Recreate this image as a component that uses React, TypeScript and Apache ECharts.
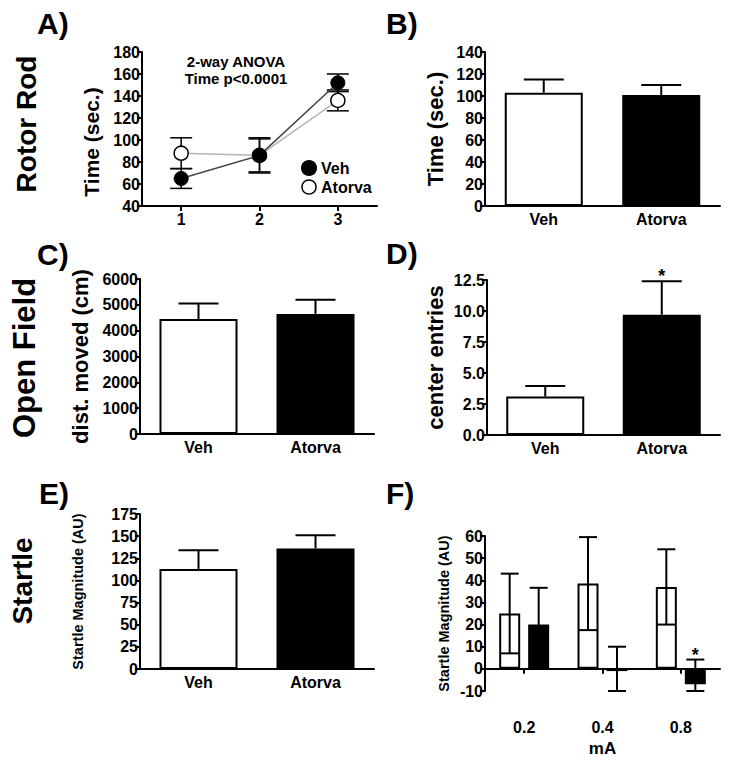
import React, { useEffect, useRef } from "react";
import * as echarts from "echarts";

const FONT = "'Liberation Sans', Arial, Helvetica, sans-serif";

// Panel A: rotor rod over sessions
const sessions = ["1", "2", "3"];
const rotorVehMean = [65, 86, 152];
const rotorVehSem = [9, 15, 8];
const rotorAtorvaMean = [88, 86, 136];
const rotorAtorvaSem = [14, 16, 9.5];

// Panels B–E: two groups
const groups = ["Veh", "Atorva"];
const rotorTotalMean = [103, 101];
const rotorTotalSem = [12, 9];
const distMean = [4450, 4650];
const distSem = [600, 550];
const centerMean = [3.1, 9.7];
const centerSem = [0.85, 2.7];
const centerSig = [0, 1];
const startleMean = [113, 136];
const startleSem = [21, 15];

// Panel F: startle by shock level
const shockLevels = ["0.2", "0.4", "0.8"];
const shockVehMean = [25, 38.5, 37];
const shockVehSem = [18, 21, 17];
const shockAtorvaMean = [20, -1, -7];
const shockAtorvaSem = [16.6, 11, 11.2];
const shockAtorvaSig = [0, 0, 1];

const BLACK = "#000";

function errSeries(
  xAxisIndex: number,
  mean: number[],
  sem: number[],
  opts: { offset?: number; cap: number; both: boolean; min: number; width: number; sig?: number[] }
) {
  const data = mean.map((m, i) => [i, m, sem[i], opts.sig ? opts.sig[i] : 0]);
  return {
    type: "custom",
    xAxisIndex,
    yAxisIndex: xAxisIndex,
    z: 5,
    silent: true,
    encode: { x: 0, y: 1 },
    data,
    renderItem: (_params: any, api: any) => {
      const cat = api.value(0);
      const m = api.value(1);
      const s = api.value(2);
      const sig = api.value(3);
      const hi = m + s;
      let lo = opts.both ? m - s : m;
      if (lo < opts.min) lo = opts.min;
      const pHi = api.coord([cat, hi]);
      const pLo = api.coord([cat, lo]);
      const x = pHi[0] + (opts.offset || 0);
      const st = { stroke: BLACK, lineWidth: opts.width };
      const children: any[] = [
        { type: "line", shape: { x1: x, y1: pHi[1], x2: x, y2: pLo[1] }, style: st },
        { type: "line", shape: { x1: x - opts.cap, y1: pHi[1], x2: x + opts.cap, y2: pHi[1] }, style: st },
      ];
      if (opts.both) {
        children.push({
          type: "line",
          shape: { x1: x - opts.cap, y1: pLo[1], x2: x + opts.cap, y2: pLo[1] },
          style: st,
        });
      }
      if (sig) {
        children.push({
          type: "text",
          x,
          y: pHi[1] - 5,
          style: {
            text: "*",
            fill: BLACK,
            font: `bold 18px ${FONT}`,
            textAlign: "center",
            textVerticalAlign: "middle",
          },
        });
      }
      return { type: "group", children };
    },
  };
}

function yAx(
  gridIndex: number,
  min: number,
  max: number,
  interval: number,
  name: string,
  nameSize: number,
  nameGap: number,
  fmt?: any,
  namePadding?: number[]
) {
  return {
    type: "value",
    gridIndex,
    min,
    max,
    interval,
    name,
    nameLocation: "middle",
    nameGap,
    nameRotate: 90,
    nameTextStyle: {
      fontSize: nameSize,
      fontWeight: "bold",
      color: BLACK,
      fontFamily: FONT,
      padding: namePadding || 0,
    },
    axisLine: { show: true, lineStyle: { color: BLACK, width: 2 } },
    axisTick: { show: true, length: 5, lineStyle: { color: BLACK, width: 2 } },
    axisLabel: {
      color: BLACK,
      fontWeight: "bold",
      fontSize: 16,
      margin: 2,
      fontFamily: FONT,
      formatter: fmt || ((v: number) => String(v)),
    },
    splitLine: { show: false },
  };
}

function xAx(gridIndex: number, data: string[], ticks: boolean, margin: number, name?: string) {
  return {
    type: "category",
    gridIndex,
    data,
    name: name || "",
    nameLocation: "middle",
    nameGap: 49,
    nameTextStyle: { fontSize: 17, fontWeight: "bold", color: BLACK, fontFamily: FONT },
    axisLine: { show: true, onZero: true, lineStyle: { color: BLACK, width: 2 } },
    axisTick: { show: ticks, alignWithLabel: true, length: 5, lineStyle: { color: BLACK, width: 2 } },
    axisLabel: { color: BLACK, fontWeight: "bold", fontSize: 16, margin, fontFamily: FONT },
    splitLine: { show: false },
  };
}

function barSeries(axis: number, values: number[], name: string) {
  return {
    type: "bar",
    name,
    xAxisIndex: axis,
    yAxisIndex: axis,
    barWidth: 78,
    z: 2,
    data: values.map((v, i) => ({
      value: v,
      itemStyle: { color: i === 0 ? "#fff" : BLACK, borderColor: BLACK, borderWidth: 2 },
    })),
  };
}

function label(text: string, x: number, y: number, size: number, rotate = false) {
  return {
    type: "text",
    x,
    y,
    rotation: rotate ? Math.PI / 2 : 0,
    style: {
      text,
      fill: BLACK,
      font: `bold ${size}px ${FONT}`,
      textAlign: rotate ? "center" : "left",
      textVerticalAlign: "middle",
    },
  };
}

const gridBase = { outerBoundsMode: "none", containLabel: false };

export default function App() {
  const ref = useRef<HTMLDivElement>(null);
  useEffect(() => {
    if (!ref.current) return;
    const chart = echarts.init(ref.current, undefined, { renderer: "svg" });
    const option: any = {
      animation: false,
      backgroundColor: "#fff",
      textStyle: { fontFamily: FONT },
      grid: [
        { ...gridBase, left: 142, top: 52, width: 235, height: 154 },
        { ...gridBase, left: 485, top: 52, width: 235, height: 154 },
        { ...gridBase, left: 140, top: 279, width: 234, height: 155 },
        { ...gridBase, left: 487, top: 280, width: 233, height: 155 },
        { ...gridBase, left: 140, top: 514, width: 234, height: 155 },
        { ...gridBase, left: 485, top: 536, width: 235, height: 155 },
      ],
      xAxis: [
        xAx(0, sessions, true, 5),
        xAx(1, groups, false, 5),
        xAx(2, groups, false, 5),
        xAx(3, groups, false, 5),
        xAx(4, groups, false, 5),
        xAx(5, shockLevels, true, 28, "mA"),
      ],
      yAxis: [
        yAx(0, 40, 180, 20, "Time (sec.)", 21, 40, undefined, [0, 26, 0, 0]),
        yAx(1, 0, 140, 20, "Time (sec.)", 22, 39),
        yAx(2, 0, 6000, 1000, "dist. moved (cm)", 22, 49),
        yAx(3, 0, 12.5, 2.5, "center entries", 22, 41, (v: number) => v.toFixed(1)),
        yAx(4, 0, 175, 25, "Startle Magnitude (AU)", 14.5, 55),
        yAx(5, -10, 60, 10, "Startle Magnitude (AU)", 14.5, 34),
      ],
      legend: {
        orient: "vertical",
        left: 296,
        top: 155,
        itemWidth: 14,
        itemHeight: 14,
        itemGap: 3,
        icon: "circle",
        textStyle: { color: BLACK, fontWeight: "bold", fontSize: 16, fontFamily: FONT },
        data: [
          { name: "Veh", itemStyle: { color: BLACK } },
          { name: "Atorva", itemStyle: { color: "#fff", borderColor: BLACK, borderWidth: 1.5 } },
        ],
      },
      series: [
        errSeries(0, rotorVehMean, rotorVehSem, { cap: 11, both: true, min: 40, width: 1.5 }),
        errSeries(0, rotorAtorvaMean, rotorAtorvaSem, { cap: 11, both: true, min: 40, width: 1.5 }),
        {
          type: "line",
          name: "Atorva",
          xAxisIndex: 0,
          yAxisIndex: 0,
          data: rotorAtorvaMean,
          symbol: "circle",
          symbolSize: 14,
          z: 6,
          lineStyle: { color: "#b5b5b5", width: 1.5 },
          itemStyle: { color: "#fff", borderColor: BLACK, borderWidth: 1.5 },
        },
        {
          type: "line",
          name: "Veh",
          xAxisIndex: 0,
          yAxisIndex: 0,
          data: rotorVehMean,
          symbol: "circle",
          symbolSize: 14,
          z: 7,
          lineStyle: { color: "#444", width: 1.5 },
          itemStyle: { color: BLACK, borderColor: BLACK, borderWidth: 1 },
        },
        barSeries(1, rotorTotalMean, "B"),
        errSeries(1, rotorTotalMean, rotorTotalSem, { cap: 20, both: false, min: 0, width: 2 }),
        barSeries(2, distMean, "C"),
        errSeries(2, distMean, distSem, { cap: 20, both: false, min: 0, width: 2 }),
        barSeries(3, centerMean, "D"),
        errSeries(3, centerMean, centerSem, { cap: 20, both: false, min: 0, width: 2, sig: centerSig }),
        barSeries(4, startleMean, "E"),
        errSeries(4, startleMean, startleSem, { cap: 20, both: false, min: 0, width: 2 }),
        {
          type: "bar",
          name: "F Veh",
          xAxisIndex: 5,
          yAxisIndex: 5,
          barWidth: 21,
          barGap: "38%",
          z: 2,
          data: shockVehMean,
          itemStyle: { color: "#fff", borderColor: BLACK, borderWidth: 2 },
        },
        {
          type: "bar",
          name: "F Atorva",
          xAxisIndex: 5,
          yAxisIndex: 5,
          barWidth: 21,
          barGap: "38%",
          z: 2,
          data: shockAtorvaMean,
          itemStyle: { color: BLACK, borderColor: BLACK, borderWidth: 2 },
        },
        errSeries(5, shockVehMean, shockVehSem, { offset: -14.5, cap: 9, both: true, min: -10, width: 2 }),
        errSeries(5, shockAtorvaMean, shockAtorvaSem, {
          offset: 14.5,
          cap: 9,
          both: true,
          min: -10,
          width: 2,
          sig: shockAtorvaSig,
        }),
      ],
      graphic: [
        label("A)", 37, 23, 30),
        label("B)", 386, 23, 30),
        label("C)", 37, 254, 30),
        label("D)", 386, 253, 30),
        label("E)", 39, 493, 30),
        label("F)", 386, 493, 30),
        label("Rotor Rod", 26, 124, 28, true),
        label("Open Field", 24, 358, 31, true),
        label("Startle", 22, 581, 28, true),
        {
          type: "text",
          x: 236,
          y: 61,
          style: { text: "2-way ANOVA", fill: BLACK, font: `bold 15px ${FONT}`, textAlign: "center", textVerticalAlign: "middle" },
        },
        {
          type: "text",
          x: 236,
          y: 78,
          style: { text: "Time p<0.0001", fill: BLACK, font: `bold 15px ${FONT}`, textAlign: "center", textVerticalAlign: "middle" },
        },
      ],
    };
    chart.setOption(option);
    return () => chart.dispose();
  }, []);
  return (
    <div
      ref={ref}
      style={{ position: "fixed", left: 0, top: 0, width: 729, height: 767, background: "#fff" }}
    />
  );
}
